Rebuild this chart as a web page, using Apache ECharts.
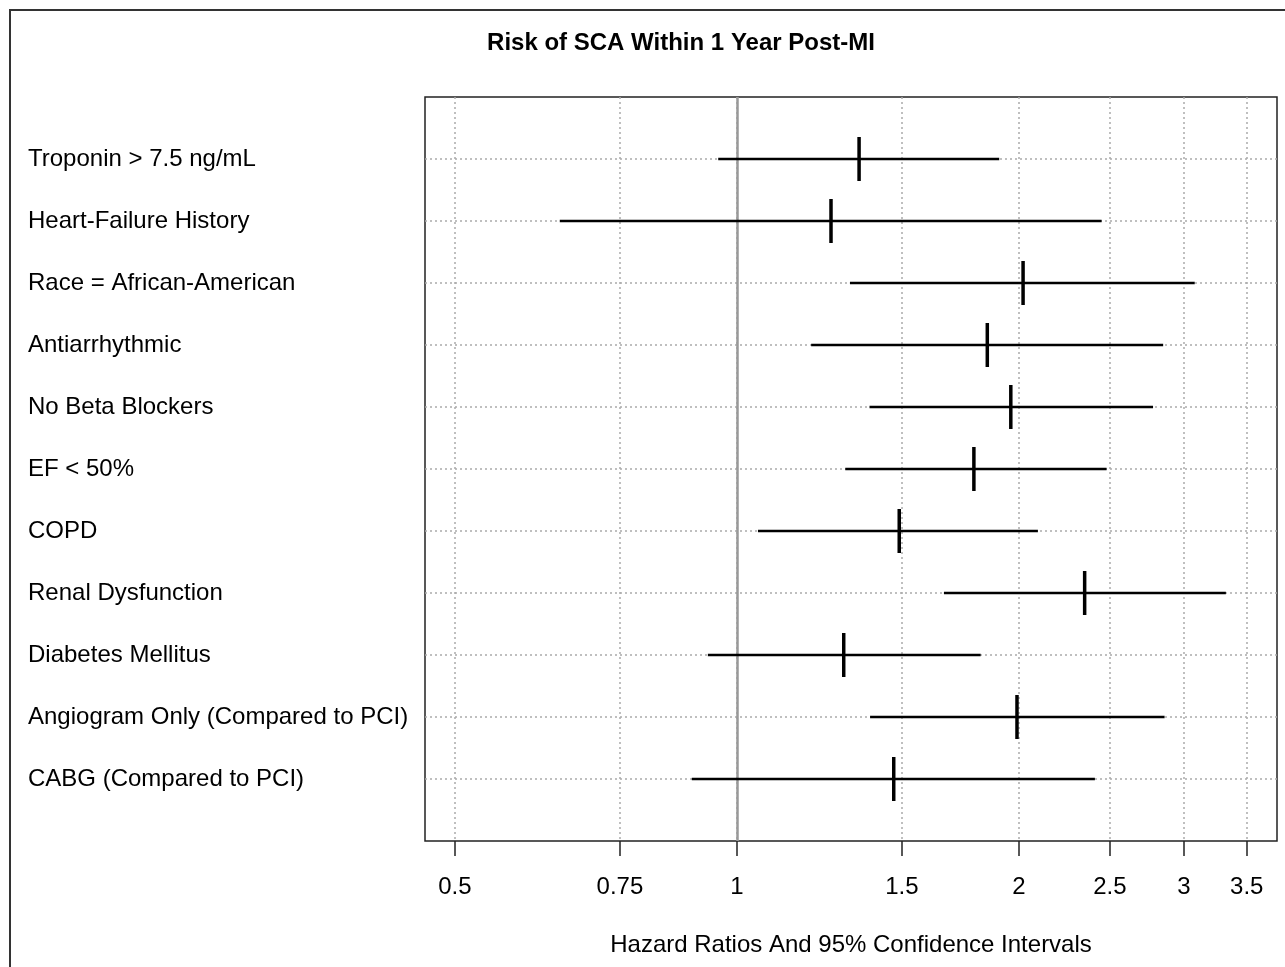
<!DOCTYPE html>
<html>
<head>
<meta charset="utf-8">
<script src="https://cdn.jsdelivr.net/npm/echarts@6/dist/echarts.min.js"></script>
<style>
  html, body { margin: 0; padding: 0; background: #fff; }
  #chart { width: 1285px; height: 967px; }
</style>
</head>
<body>
<div id="chart"></div>
<script>
const categories = [
  'Troponin > 7.5 ng/mL',
  'Heart-Failure History',
  'Race = African-American',
  'Antiarrhythmic',
  'No Beta Blockers',
  'EF < 50%',
  'COPD',
  'Renal Dysfunction',
  'Diabetes Mellitus',
  'Angiogram Only (Compared to PCI)',
  'CABG (Compared to PCI)'
];
const hazardRatio = [1.35, 1.26, 2.02, 1.85, 1.96, 1.79, 1.49, 2.35, 1.30, 1.99, 1.47];
const lowerCI     = [0.955, 0.647, 1.32, 1.20, 1.385, 1.305, 1.053, 1.663, 0.931, 1.387, 0.895];
const upperCI     = [1.905, 2.45, 3.08, 2.85, 2.78, 2.48, 2.095, 3.325, 1.82, 2.86, 2.41];
const xTicks = [0.5, 0.75, 1, 1.5, 2, 2.5, 3, 3.5];
const rowPositions = categories.map((c, i) => i + 1);

const FONT = '"Liberation Sans", Arial, sans-serif';
const rows = categories.map((c, i) => [rowPositions[i], lowerCI[i], hazardRatio[i], upperCI[i]]);

const chart = echarts.init(document.getElementById('chart'));
chart.setOption({
  animation: false,
  backgroundColor: '#fff',
  title: {
    text: 'Risk of SCA Within 1 Year Post-MI',
    left: 676,
    top: 26,
    textAlign: 'center',
    textStyle: { fontFamily: FONT, fontSize: 24, fontWeight: 'bold', color: '#000' }
  },
  graphic: [{
    type: 'rect',
    z: -10,
    shape: { x: 10, y: 10, width: 1300, height: 1000 },
    style: { fill: 'none', stroke: '#333', lineWidth: 2 }
  }],
  grid: {
    left: 425, right: 8, top: 97, bottom: 126,
    show: true, borderColor: '#222', borderWidth: 1.5, backgroundColor: 'transparent'
  },
  xAxis: {
    type: 'log',
    logBase: Math.E,
    min: 0.4646,
    max: 3.77,
    position: 'bottom',
    name: 'Hazard Ratios And 95% Confidence Intervals',
    nameLocation: 'middle',
    nameGap: 92,
    nameTextStyle: { fontFamily: FONT, fontSize: 24, color: '#000' },
    axisLine: { show: false, onZero: false },
    axisTick: { show: true, customValues: xTicks, length: 15, inside: false, lineStyle: { color: '#222', width: 1.5 } },
    axisLabel: {
      customValues: xTicks,
      margin: 34,
      fontFamily: FONT, fontSize: 24, color: '#000',
      formatter: v => String(+v.toFixed(2))
    },
    splitLine: { show: true, lineStyle: { color: '#aaa', width: 1.5, type: [2, 3] } },
    minorTick: { show: false },
    minorSplitLine: { show: false }
  },
  yAxis: {
    type: 'value',
    min: 0,
    max: 12,
    inverse: true,
    axisLine: { show: false, onZero: false },
    axisTick: { show: false, customValues: rowPositions },
    axisLabel: {
      customValues: rowPositions,
      align: 'left',
      verticalAlign: 'middle',
      padding: [4, 0, 0, 0],
      margin: 397,
      fontFamily: FONT, fontSize: 24, color: '#000',
      formatter: v => categories[Math.round(v) - 1] || ''
    },
    splitLine: { show: true, lineStyle: { color: '#aaa', width: 1.5, type: [2, 3] } }
  },
  series: [{
    type: 'custom',
    data: rows,
    encode: { x: [1, 2, 3], y: 0 },
    clip: false,
    renderItem: function (params, api) {
      const row = api.value(0);
      const lo = api.coord([api.value(1), row]);
      const hr = api.coord([api.value(2), row]);
      const hi = api.coord([api.value(3), row]);
      return {
        type: 'group',
        children: [
          { type: 'line', shape: { x1: lo[0], y1: lo[1], x2: hi[0], y2: hi[1] },
            style: { stroke: '#000', lineWidth: 2.7 } },
          { type: 'line', shape: { x1: hr[0], y1: hr[1] - 22, x2: hr[0], y2: hr[1] + 22 },
            style: { stroke: '#000', lineWidth: 3.5 } }
        ]
      };
    },
    markLine: {
      silent: true,
      symbol: 'none',
      label: { show: false },
      z: 1,
      lineStyle: { color: '#999', width: 2.5, type: 'solid' },
      data: [{ xAxis: 1 }]
    }
  }]
});
</script>
</body>
</html>
